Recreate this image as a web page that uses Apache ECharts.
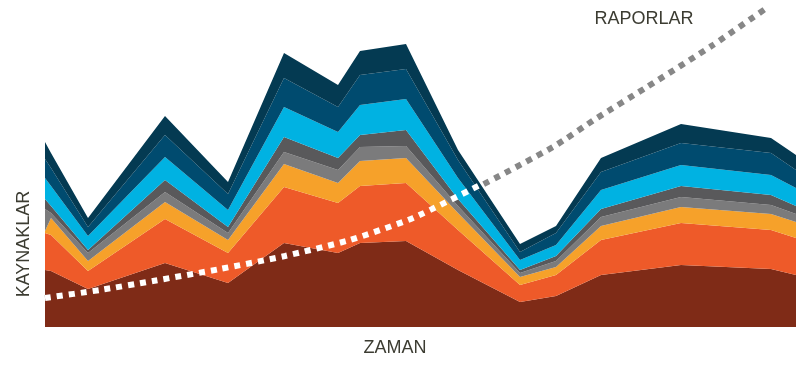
<!DOCTYPE html>
<html>
<head>
<meta charset="utf-8">
<script src="https://cdn.jsdelivr.net/npm/echarts@6/dist/echarts.min.js"></script>
<style>
html,body{margin:0;padding:0;background:#fff;}
#chart{width:800px;height:380px;}
</style>
</head>
<body>
<div id="chart"></div>
<script>
// time positions (x) of each sample
var zaman = [45, 51, 88, 165, 228, 284, 338, 360, 406, 458, 520, 556, 601, 681, 771, 796];
// stacked resource layers, bottom to top
var kaynak1 = [57, 56, 38, 64, 44, 84, 74, 84, 86, 57, 25, 31, 52, 62, 58, 52];
var kaynak2 = [37, 36, 18, 44, 30, 56, 50, 57, 58, 40, 17, 21, 35, 42, 39, 37];
var kaynak3 = [2, 17, 10, 17, 13, 23, 20, 25, 25, 17, 8, 8, 14, 16, 16, 16];
var kaynak4 = [22, 5, 8, 10, 7, 12, 13, 14, 12, 7, 4, 6, 9, 10, 9, 8];
var kaynak5 = [10, 7, 3, 12, 6, 15, 12, 12, 16, 7, 3, 5, 8, 11, 10, 8];
var kaynak6 = [21, 20, 14, 23, 17, 30, 26, 30, 31, 21, 10, 11, 19, 21, 20, 18];
var kaynak7 = [19, 18, 9, 22, 16, 29, 25, 30, 30, 18, 8, 12, 18, 22, 22, 18];
var kaynak8 = [17, 15, 9, 19, 12, 25, 22, 24, 25, 10, 8, 7, 14, 19, 15, 15];
// reports curve
var raporX = [45, 100, 153, 220, 285, 350, 413, 478, 553, 597, 647, 713, 768];
var raporY = [29, 37, 46, 58, 71, 87, 109, 140, 180, 209, 240, 282, 320];
// portion of the reports curve that lies inside the areas
var raporIcX = [45, 100, 153, 220, 285, 350, 413, 482];
var raporIcY = [29, 37, 46, 58, 71, 87, 109, 143];

var layers = [kaynak1, kaynak2, kaynak3, kaynak4, kaynak5, kaynak6, kaynak7, kaynak8];
var colors = ['#7f2b17', '#ee5a29', '#f6a12a', '#7b7b7c', '#59595b', '#00b2e2', '#004b6f', '#043a52'];

function pairs(xs, ys) { return xs.map(function (x, i) { return [x, ys[i]]; }); }

var series = layers.map(function (d, i) {
  return {
    type: 'line', stack: 'k', z: 2, symbol: 'none', silent: true,
    data: pairs(zaman, d),
    lineStyle: { width: 0 },
    areaStyle: { color: colors[i], opacity: 1 },
    itemStyle: { color: colors[i] }
  };
});
series.unshift({
  type: 'line', z: 1, symbol: 'none', smooth: 0.2, silent: true,
  data: pairs(raporX, raporY),
  lineStyle: { color: '#878787', width: 6, type: [6, 6], cap: 'butt' }
});
series.push({
  type: 'line', z: 5, symbol: 'none', smooth: 0.2, silent: true,
  data: pairs(raporIcX, raporIcY),
  lineStyle: { color: '#ffffff', width: 6, type: [6, 6], cap: 'butt' }
});

var chart = echarts.init(document.getElementById('chart'), null, { renderer: 'canvas' });
chart.setOption({
  animation: false,
  backgroundColor: '#ffffff',
  grid: { left: 45, right: 4, top: 0, bottom: 53 },
  xAxis: { type: 'time', min: 45, max: 796, show: false },
  yAxis: { type: 'value', min: 0, max: 327, show: false },
  graphic: [
    { type: 'text', x: 395, y: 348, style: { text: 'ZAMAN', fill: '#3c3c32', font: '18px "Liberation Sans", Arial, sans-serif', textAlign: 'center', textVerticalAlign: 'middle' } },
    { type: 'text', x: 644, y: 19, style: { text: 'RAPORLAR', fill: '#3c3c32', font: '18px "Liberation Sans", Arial, sans-serif', textAlign: 'center', textVerticalAlign: 'middle' } },
    { type: 'text', x: 24, y: 244, rotation: Math.PI / 2, style: { text: 'KAYNAKLAR', fill: '#3c3c32', font: '18px "Liberation Sans", Arial, sans-serif', textAlign: 'center', textVerticalAlign: 'middle' } }
  ],
  series: series
});
</script>
</body>
</html>
